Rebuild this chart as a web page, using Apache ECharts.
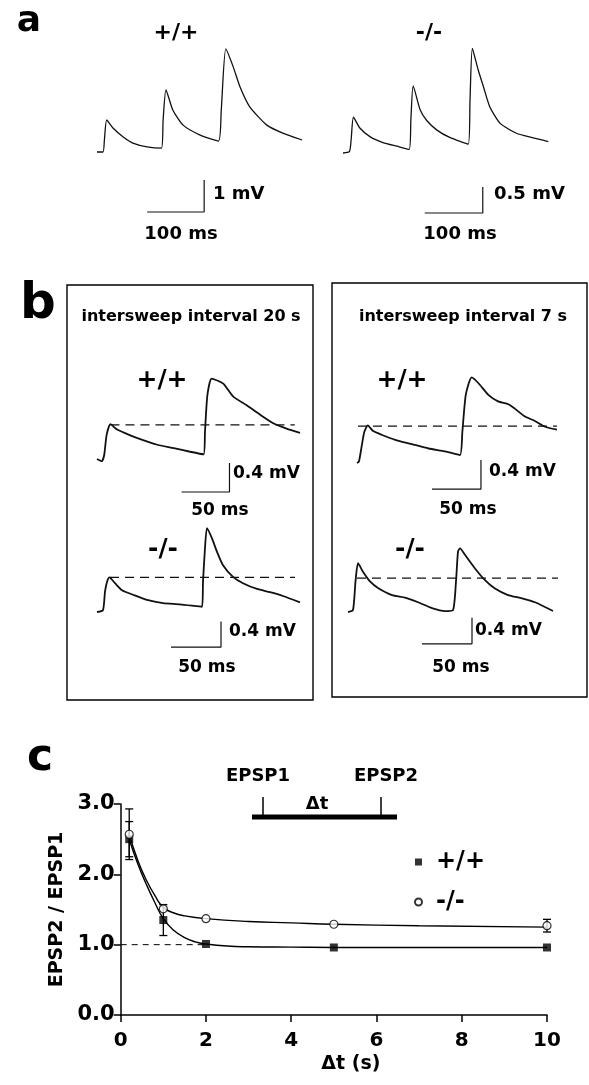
<!DOCTYPE html>
<html>
<head>
<meta charset="utf-8">
<script src="https://cdn.jsdelivr.net/npm/echarts@6/dist/echarts.min.js"></script>
<style>
  html, body { margin: 0; padding: 0; background: #fff; }
  #chart { width: 589px; height: 1085px; }
</style>
</head>
<body>
<div id="chart"></div>
<script>
// ---- data (ms, mV) ----
// panel a: three-pulse trains
var traceA_wt = [[0,0],[10.5,0],[13,0.38],[17,1.0],[28,0.75],[46,0.47],[63,0.28],[88,0.16],[113,0.12],[116,1.0],[121,1.94],[133,1.31],[151,0.84],[181,0.53],[213,0.34],[218,1.31],[226,3.22],[239,2.66],[251,2.03],[268,1.41],[298,0.84],[326,0.59],[360,0.375]];
var traceA_ko = [[0,0],[11,0.025],[14,0.25],[18,0.69],[29,0.48],[47,0.31],[69,0.2],[93,0.13],[114,0.07],[117,0.63],[121,1.29],[133,0.83],[144,0.63],[162,0.44],[184,0.3],[216,0.17],[219,1.02],[223,2.01],[233,1.6],[242,1.28],[253,0.89],[271,0.57],[299,0.38],[328,0.29],[354,0.22]];
// panel b: paired pulses, intersweep 20 s and 7 s
var traceB20_wt = [[0,0],[5,-0.03],[7.5,0.055],[10,0.33],[14,0.48],[20.5,0.41],[34,0.33],[48,0.26],[62,0.2],[80,0.15],[97,0.1],[111,0.065],[112.5,0.38],[115,0.88],[119.5,1.11],[131.5,1.04],[142,0.86],[156,0.74],[170,0.61],[184,0.49],[197.5,0.42],[211.5,0.36]];
var traceB20_ko = [[0,0],[6,0.03],[8,0.32],[10,0.47],[12.5,0.54],[18,0.45],[25,0.34],[36,0.27],[50,0.19],[66,0.14],[83,0.12],[105,0.08],[106,0.47],[108,1.0],[110,1.31],[115,1.15],[120,0.94],[126,0.73],[136,0.55],[146,0.45],[160,0.36],[173,0.31],[186,0.25],[203,0.15]];
var traceB7_wt = [[0,0],[2,0.02],[5,0.25],[7.5,0.43],[11,0.52],[16.5,0.44],[25,0.39],[39,0.32],[56,0.26],[73,0.2],[90,0.16],[105,0.11],[107.5,0.43],[111,0.94],[117,1.18],[124,1.1],[134,0.94],[144,0.85],[154.5,0.81],[161,0.75],[171.5,0.64],[181.5,0.58],[192,0.5],[204,0.46]];
var traceB7_ko = [[0,0],[5,0.03],[7.5,0.47],[10,0.75],[15,0.62],[22,0.47],[30,0.37],[44,0.26],[57,0.22],[70,0.15],[84,0.06],[97,0.015],[105,0.03],[108,0.47],[110,0.93],[112,0.98],[117,0.88],[127,0.67],[137,0.49],[147,0.36],[160,0.26],[174,0.21],[187,0.15],[205,0.015]];
// first-EPSP peak level (dashed reference) and its span, ms
var peakB = [0.47, 0.54, 0.51, 0.52];
var peakSpan = [[14, 206], [13, 198], [1, 204], [9, 210]];
// scale bars: [ms, mV]
var scaleA = [[100, 1], [100, 0.5]];
var scaleB = [[50, 0.4], [50, 0.4], [50, 0.4], [50, 0.4]];

// panel c: paired-pulse ratio
var dt = [0.2, 1, 2, 5, 10];
var ratioWT = [2.5, 1.35, 1.01, 0.96, 0.96];
var errWT = [0.25, 0.22, 0, 0, 0];
var ratioKO = [2.57, 1.51, 1.37, 1.29, 1.27];
var errKO = [0.36, 0, 0, 0, 0.09];
var fitWT = [[0.2,2.5],[0.4,2.15],[0.6,1.86],[0.8,1.6],[1,1.37],[1.25,1.2],[1.5,1.1],[1.75,1.04],[2,1.01],[2.5,0.98],[3,0.97],[4,0.965],[5,0.96],[10,0.96]];
var fitKO = [[0.2,2.57],[0.4,2.2],[0.6,1.92],[0.8,1.7],[1,1.53],[1.25,1.45],[1.5,1.41],[2,1.37],[3,1.33],[4,1.31],[5,1.29],[7,1.27],[10,1.25]];

var FF = '"DejaVu Sans", sans-serif';
function font(px) { return 'bold ' + px + 'px ' + FF; }

// trace panels: grid box in px, axis ranges
var panels = [
  { grid: { left: 97, top: 40, width: 205.2, height: 176 }, x: [0, 360], y: [-2, 3.5], data: traceA_wt, bar: scaleA[0], corner: [188, -1.875], lw: 1.3 },
  { grid: { left: 343, top: 36, width: 208.8, height: 182 }, x: [0, 360], y: [-1.25, 2.25], data: traceA_ko, bar: scaleA[1], corner: [241, -1.154], lw: 1.3 },
  { grid: { left: 97, top: 372, width: 206.4, height: 130.5 }, x: [0, 215], y: [-0.6, 1.2], data: traceB20_wt, bar: scaleB[0], corner: [138, -0.455], lw: 1.8, peak: 0 },
  { grid: { left: 97, top: 516, width: 210, height: 140.8 }, x: [0, 210], y: [-0.7, 1.5], data: traceB20_ko, bar: scaleB[1], corner: [124, -0.55], lw: 1.8, peak: 1 },
  { grid: { left: 357, top: 376, width: 205.8, height: 130.5 }, x: [0, 210], y: [-0.6, 1.2], data: traceB7_wt, bar: scaleB[2], corner: [126.5, -0.36], lw: 1.8, peak: 2 },
  { grid: { left: 348, top: 527.5, width: 215, height: 130 }, x: [0, 215], y: [-0.7, 1.3], data: traceB7_ko, bar: scaleB[3], corner: [124, -0.49], lw: 1.8, peak: 3 }
];

var grids = [], xAxes = [], yAxes = [], series = [];
panels.forEach(function (p, i) {
  grids.push(p.grid);
  xAxes.push({ type: 'value', gridIndex: i, min: p.x[0], max: p.x[1], show: false });
  yAxes.push({ type: 'value', gridIndex: i, min: p.y[0], max: p.y[1], show: false });
  series.push({
    type: 'line', xAxisIndex: i, yAxisIndex: i, data: p.data, showSymbol: false,
    smooth: 0.2,
    lineStyle: { color: '#111', width: p.lw }, silent: true, animation: false
  });
  var c = p.corner;
  series.push({
    type: 'line', xAxisIndex: i, yAxisIndex: i, showSymbol: false, silent: true, animation: false,
    data: [[c[0] - p.bar[0], c[1]], [c[0], c[1]], [c[0], c[1] + p.bar[1]]],
    lineStyle: { color: '#111', width: 1.2 }
  });
  if (p.peak !== undefined) {
    var k = p.peak;
    series.push({
      type: 'line', xAxisIndex: i, yAxisIndex: i, showSymbol: false, silent: true, animation: false,
      data: [[peakSpan[k][0], peakB[k]], [peakSpan[k][1], peakB[k]]],
      lineStyle: { color: '#111', width: 1.2, type: [9, 6] }, z: 1
    });
  }
});

// panel c
var ci = panels.length;
grids.push({ left: 120.7, top: 804, width: 426.3, height: 211 });
xAxes.push({
  type: 'value', gridIndex: ci, min: 0, max: 10, interval: 2,
  axisLine: { lineStyle: { color: '#000', width: 1.5 } },
  axisTick: { length: 7, lineStyle: { color: '#000', width: 1.5 } },
  axisLabel: { color: '#000', fontFamily: FF, fontWeight: 'bold', fontSize: 20, margin: 16 },
  splitLine: { show: false },
  name: 'Δt (s)', nameLocation: 'middle', nameGap: 40,
  nameTextStyle: { color: '#000', fontFamily: FF, fontWeight: 'bold', fontSize: 19, padding: [0, 0, 0, 34] }
});
yAxes.push({
  type: 'value', gridIndex: ci, min: 0, max: 3, interval: 1,
  axisLine: { show: true, lineStyle: { color: '#000', width: 1.5 } },
  axisTick: { show: true, length: 7, lineStyle: { color: '#000', width: 1.5 } },
  axisLabel: { color: '#000', fontFamily: FF, fontWeight: 'bold', fontSize: 21, margin: 6,
    formatter: function (v) { return v.toFixed(1); } },
  splitLine: { show: false },
  name: 'EPSP2 / EPSP1', nameLocation: 'middle', nameGap: 54, nameRotate: 90,
  nameTextStyle: { color: '#000', fontFamily: FF, fontWeight: 'bold', fontSize: 19 }
});

function errBars(vals, errs) {
  return dt.map(function (x, j) { return [x, vals[j], errs[j]]; }).filter(function (d) { return d[2] > 0; });
}
function renderErr(params, api) {
  var x = api.value(0), y = api.value(1), e = api.value(2);
  var hi = api.coord([x, y + e]), lo = api.coord([x, y - e]);
  var w = 4, st = { stroke: '#000', lineWidth: 1.3 };
  return { type: 'group', children: [
    { type: 'line', shape: { x1: hi[0], y1: hi[1], x2: lo[0], y2: lo[1] }, style: st },
    { type: 'line', shape: { x1: hi[0] - w, y1: hi[1], x2: hi[0] + w, y2: hi[1] }, style: st },
    { type: 'line', shape: { x1: lo[0] - w, y1: lo[1], x2: lo[0] + w, y2: lo[1] }, style: st }
  ] };
}

series.push(
  { type: 'line', xAxisIndex: ci, yAxisIndex: ci, data: [[0, 1], [2, 1]], showSymbol: false, silent: true,
    lineStyle: { color: '#000', width: 1, type: [6, 5] }, z: 1, animation: false },
  { type: 'line', xAxisIndex: ci, yAxisIndex: ci, data: fitWT, smooth: true, showSymbol: false, silent: true,
    lineStyle: { color: '#000', width: 1.4 }, z: 2, animation: false },
  { type: 'line', xAxisIndex: ci, yAxisIndex: ci, data: fitKO, smooth: true, showSymbol: false, silent: true,
    lineStyle: { color: '#000', width: 1.4 }, z: 2, animation: false },
  { type: 'custom', xAxisIndex: ci, yAxisIndex: ci, data: errBars(ratioWT, errWT), renderItem: renderErr, z: 3, animation: false },
  { type: 'custom', xAxisIndex: ci, yAxisIndex: ci, data: errBars(ratioKO, errKO), renderItem: renderErr, z: 3, animation: false },
  { name: '+/+', type: 'scatter', xAxisIndex: ci, yAxisIndex: ci, symbol: 'rect', symbolSize: 8,
    data: dt.map(function (x, j) { return [x, ratioWT[j]]; }),
    itemStyle: { color: '#000' }, z: 4, animation: false },
  { name: '-/-', type: 'scatter', xAxisIndex: ci, yAxisIndex: ci, symbol: 'circle', symbolSize: 8,
    data: dt.map(function (x, j) { return [x, ratioKO[j]]; }),
    itemStyle: { color: '#fff', borderColor: '#000', borderWidth: 1.2 }, z: 5, animation: false }
);

function txt(s, x, y, px, align) {
  return { type: 'text', x: x, y: y, silent: true,
    style: { text: s, font: font(px), fill: '#000', textAlign: align || 'center', align: align || 'center',
      textVerticalAlign: 'middle', verticalAlign: 'middle' } };
}
function seg(x1, y1, x2, y2, w) {
  return { type: 'line', silent: true, shape: { x1: x1, y1: y1, x2: x2, y2: y2 }, style: { stroke: '#000', lineWidth: w } };
}

var elements = [
  txt('a', 29, 22, 36),
  txt('+/+', 176, 33, 22),
  txt('-/-', 429, 33, 22),
  txt('1 mV', 213, 194, 18, 'left'),
  txt('100 ms', 181, 234, 18),
  txt('0.5 mV', 494, 194, 18, 'left'),
  txt('100 ms', 460, 234, 18),
  txt('b', 38, 305, 50),
  { type: 'rect', silent: true, shape: { x: 67, y: 285, width: 246, height: 415 }, style: { fill: 'none', stroke: '#000', lineWidth: 1.4 } },
  { type: 'rect', silent: true, shape: { x: 332, y: 283, width: 255, height: 414 }, style: { fill: 'none', stroke: '#000', lineWidth: 1.4 } },
  txt('intersweep interval 20 s', 191, 317, 16),
  txt('intersweep interval 7 s', 463, 317, 16),
  txt('+/+', 162, 380, 25),
  txt('0.4 mV', 233, 474, 17, 'left'),
  txt('50 ms', 220, 511, 17),
  txt('-/-', 163, 549, 25),
  txt('0.4 mV', 229, 632, 17, 'left'),
  txt('50 ms', 207, 668, 17),
  txt('+/+', 402, 380, 25),
  txt('0.4 mV', 489, 472, 17, 'left'),
  txt('50 ms', 468, 510, 17),
  txt('-/-', 410, 549, 25),
  txt('0.4 mV', 475, 631, 17, 'left'),
  txt('50 ms', 461, 668, 17),
  txt('c', 40, 759, 44),
  txt('EPSP1', 258, 776, 18),
  txt('EPSP2', 386, 776, 18),
  txt('Δt', 317, 804, 18),
  seg(252, 817, 397, 817, 5),
  seg(263, 797, 263, 817, 1.5),
  seg(381, 797, 381, 817, 1.5)
];

var chart = echarts.init(document.getElementById('chart'), null, { renderer: 'canvas' });
chart.setOption({
  backgroundColor: '#fff',
  animation: false,
  grid: grids,
  xAxis: xAxes,
  yAxis: yAxes,
  series: series,
  legend: {
    orient: 'vertical', left: 409, top: 845, itemWidth: 7, itemHeight: 7, itemGap: 16,
    data: ['+/+', '-/-'],
    textStyle: { color: '#000', fontFamily: FF, fontWeight: 'bold', fontSize: 24, padding: [0, 0, 0, 9] },
    selectedMode: false
  },
  graphic: { elements: elements }
});
</script>
</body>
</html>
